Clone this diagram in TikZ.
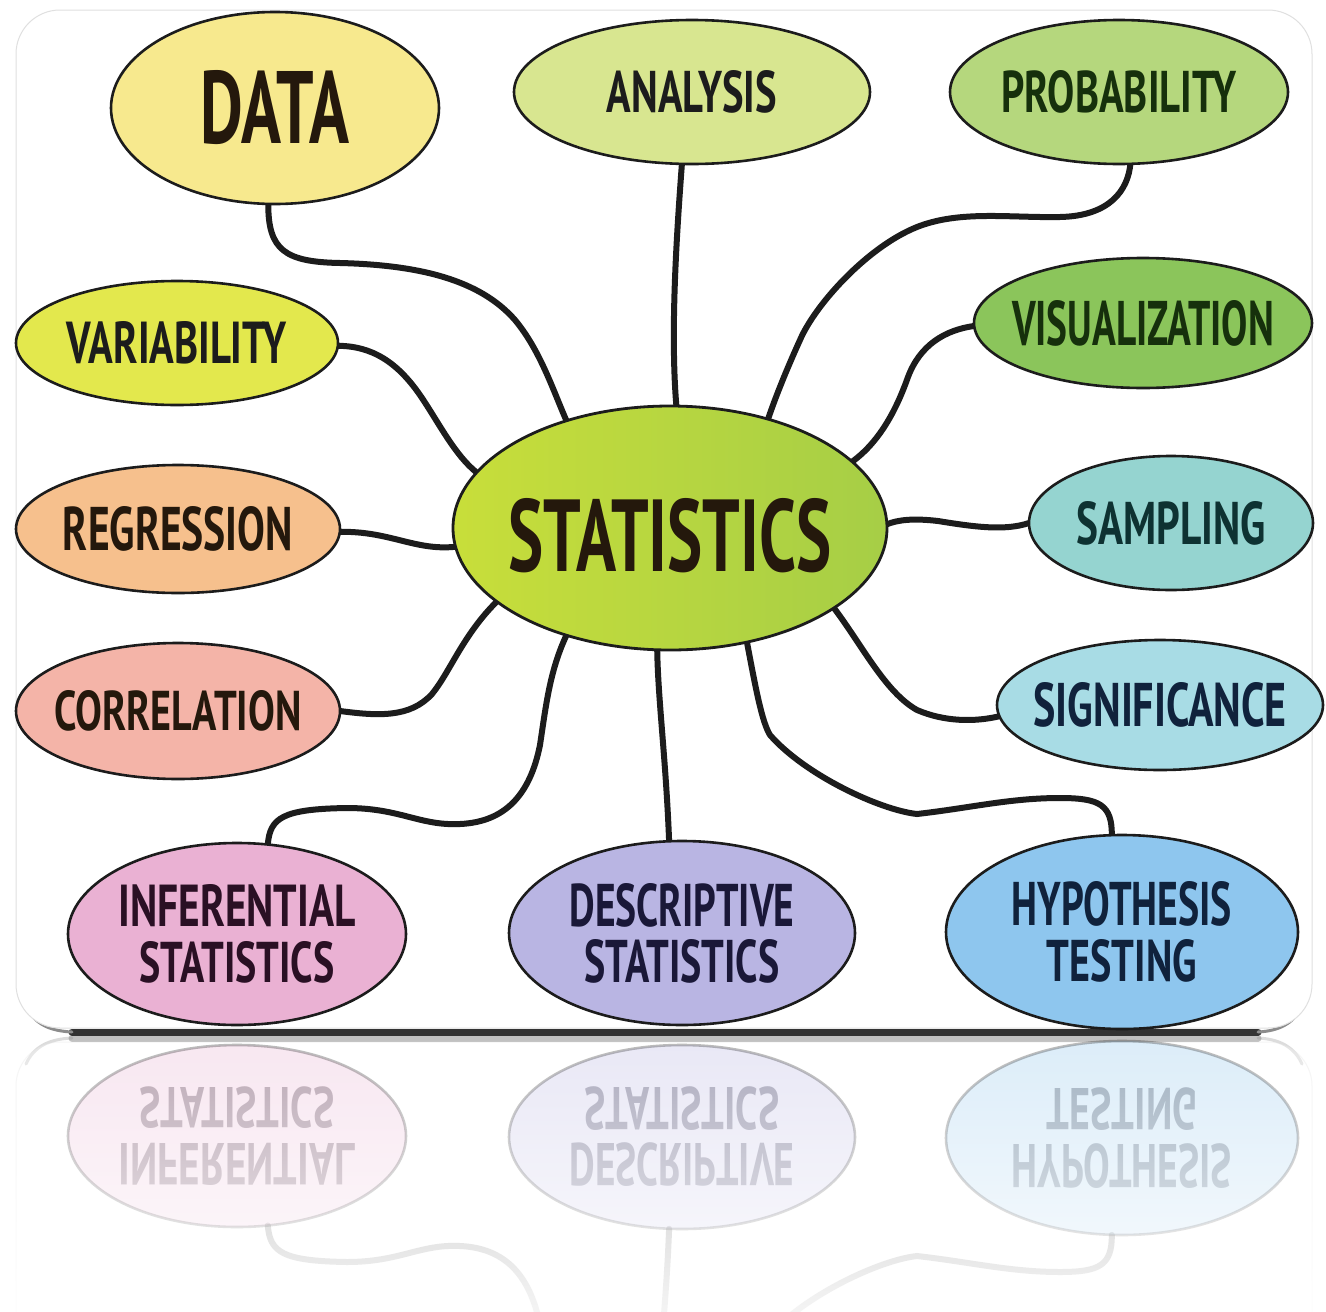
\documentclass[tikz,border=0pt]{standalone}
\usepackage{fontspec}
\setmainfont{PT Sans}
\usepackage{graphicx}
\usetikzlibrary{shapes.geometric,fadings}
\pgfdeclarelayer{cardlayer}
\pgfdeclarelayer{background}
\pgfsetlayers{cardlayer,background,main}

\definecolor{cData}{HTML}{F7E98E}
\definecolor{cAna}{HTML}{D8E690}
\definecolor{cProb}{HTML}{B5D77D}
\definecolor{cVar}{HTML}{E3E84D}
\definecolor{cVis}{HTML}{8BC55B}
\definecolor{cReg}{HTML}{F6C08D}
\definecolor{cSamp}{HTML}{95D4D0}
\definecolor{cCor}{HTML}{F4B4A8}
\definecolor{cSig}{HTML}{A8DCE5}
\definecolor{cInf}{HTML}{EAB1D3}
\definecolor{cDesc}{HTML}{B9B5E3}
\definecolor{cHyp}{HTML}{8EC6EE}
\definecolor{cStatL}{HTML}{C8DE3A}
\definecolor{cStatM}{HTML}{D3E440}
\definecolor{cStatR}{HTML}{A6CE46}
\definecolor{ink}{HTML}{1C1C1C}
\definecolor{tBrown}{HTML}{24180C}
\definecolor{tGreen}{HTML}{16300C}
\definecolor{tTeal}{HTML}{0E3232}
\definecolor{tNavy}{HTML}{10223C}
\definecolor{tPlum}{HTML}{2A1024}
\definecolor{tIndigo}{HTML}{1A1838}

\tikzfading[name=reflfade, top color=transparent!100, bottom color=transparent!15]

\newcommand{\lbl}[3]{\makebox[0pt]{\resizebox{#1pt}{#2pt}{\bfseries #3}}}

% card with bottom shadow
\newcommand{\cardpart}{%
  \begin{pgfonlayer}{cardlayer}
    \draw[line width=7pt, black!80, line cap=round] (72,1032) -- (1258,1032);
    \draw[line width=3pt, black!45, line cap=round] (26,1006) .. controls (34,1024) and (50,1031) .. (72,1032);
    \draw[line width=3pt, black!45, line cap=round] (1302,1006) .. controls (1294,1024) and (1278,1031) .. (1258,1032);
    \filldraw[fill=white, draw=black!12, line width=1pt, rounded corners=44pt] (16,10) rectangle (1312,1028);
  \end{pgfonlayer}}

% central node
\newcommand{\statnode}[1]{%
  \node[statsty] (stat) at (670,528) {#1};}

% upper leaves and their connectors
\newcommand{\toppart}{%
  \node[leaf, fill=cData, minimum width=328pt, minimum height=192pt, text=tBrown] (data) at (275,108) {\lbl{148}{73}{DATA}};
  \node[leaf, fill=cAna, minimum width=356pt, minimum height=144pt] (ana) at (692,92) {\lbl{170}{42}{ANALYSIS}};
  \node[leaf, fill=cProb, minimum width=338pt, minimum height=144pt, text=tGreen] (prob) at (1119,92) {\lbl{235}{42}{PROBABILITY}};
  \node[leaf, fill=cVar, minimum width=322pt, minimum height=124pt] (var) at (177,343) {\lbl{220}{42}{VARIABILITY}};
  \node[leaf, fill=cVis, minimum width=338pt, minimum height=130pt, text=tGreen] (vis) at (1143,323) {\lbl{262}{45}{VISUALIZATION}};
  \node[leaf, fill=cReg, minimum width=324pt, minimum height=128pt, text=tBrown] (reg) at (178,529) {\lbl{230}{44}{REGRESSION}};
  \node[leaf, fill=cSamp, minimum width=284pt, minimum height=134pt, text=tTeal] (samp) at (1171,523) {\lbl{189}{43}{SAMPLING}};
  \node[leaf, fill=cCor, minimum width=324pt, minimum height=136pt, text=tBrown] (cor) at (178,711) {\lbl{247}{40}{CORRELATION}};
  \node[leaf, fill=cSig, minimum width=326pt, minimum height=130pt, text=tNavy] (sig) at (1160,705) {\lbl{253}{44}{SIGNIFICANCE}};
  \begin{pgfonlayer}{background}
    \draw[conn] (data.-94) .. controls (268,250) and (285,262) .. (340,263) .. controls (420,265) and (480,280) .. (515,320) .. controls (540,350) and (553,390) .. (stat.134.2);
    \draw[conn] (ana.-98) .. controls (677,230) and (670,330) .. (stat.87.7);
    \draw[conn] (prob.-81) .. controls (1128,190) and (1110,216) .. (1060,217) .. controls (1010,218) and (960,210) .. (917,227) .. controls (867,247) and (815,305) .. (800,340) .. controls (790,362) and (778,390) .. (stat.48.9);
    \draw[conn] (var.-1) .. controls (372,346) and (398,362) .. (422,398) .. controls (440,425) and (455,455) .. (stat.164.5);
    \draw[conn] (vis.181.4) .. controls (945,330) and (920,345) .. (908,377) .. controls (898,405) and (882,440) .. (stat.20.2);
    \draw[conn] (reg.-1) .. controls (390,531) and (415,551) .. (stat.185.9);
    \draw[conn] (samp.180.8) .. controls (1005,531) and (975,527) .. (938,521) .. controls (912,518) and (898,520) .. (stat.1.6);
    \draw[conn] (cor.0) .. controls (378,716) and (410,718) .. (432,694) .. controls (450,672) and (463,635) .. (stat.203.5);
    \draw[conn] (sig.184.6) .. controls (975,722) and (945,722) .. (917,710) .. controls (885,692) and (862,645) .. (stat.334.9);
  \end{pgfonlayer}}

% lower leaves and their connectors
\newcommand{\bottompart}{%
  \node[leaf, fill=cInf, minimum width=338pt, minimum height=182pt, text=tPlum] (inf) at (237,934) {\lbl{237}{42}{INFERENTIAL}\\\lbl{195}{41}{STATISTICS}};
  \node[leaf, fill=cDesc, minimum width=346pt, minimum height=184pt, text=tIndigo] (desc) at (682,933) {\lbl{225}{43}{DESCRIPTIVE}\\\lbl{195}{43}{STATISTICS}};
  \node[leaf, fill=cHyp, minimum width=352pt, minimum height=194pt, text=tNavy] (hyp) at (1122,932) {\lbl{220}{44}{HYPOTHESIS}\\\lbl{150}{42}{TESTING}};
  \begin{pgfonlayer}{background}
    \draw[conn] (inf.71) .. controls (270,818) and (282,809) .. (347,808) .. controls (400,808) and (420,826) .. (460,824) .. controls (505,822) and (530,795) .. (540,745) .. controls (546,705) and (550,670) .. (stat.226);
    \draw[conn] (desc.98.6) .. controls (666,760) and (658,700) .. (stat.264);
    \draw[conn] (hyp.96.5) .. controls (1112,805) and (1100,798) .. (1060,798) .. controls (1010,798) and (970,808) .. (917,814) .. controls (880,810) and (805,775) .. (770,735) .. controls (762,722) and (756,690) .. (stat.304.9);
  \end{pgfonlayer}}

\begin{document}
\begin{tikzpicture}[x=1pt, y=-1pt,
  leaf/.style={ellipse, draw=ink, line width=2.6pt, inner sep=0pt, outer sep=0pt, text=ink,
               align=center, font=\fontsize{10}{56}\selectfont},
  statsty/.style={ellipse, draw=ink, line width=2.8pt, inner sep=0pt, outer sep=0pt,
               minimum width=434pt, minimum height=244pt, text=tBrown,
               left color=cStatL, middle color=cStatM, right color=cStatR},
  conn/.style={line width=6pt, draw=ink, line cap=round}]
  \useasboundingbox (0,0) rectangle (1326,1312);
  \begin{pgfonlayer}{cardlayer}
    \fill[white] (0,0) rectangle (1326,1312);
  \end{pgfonlayer}
  % the mind map
  \cardpart
  \statnode{\rule{0pt}{89pt}\lbl{323}{73}{STATISTICS}}
  \toppart
  \bottompart
  % its reflection on the floor
  \begin{scope}
    \clip (0,1036) rectangle (1326,1312);
    \begin{scope}[shift={(0,2070)}, yscale=-1, name prefix=r-,
                  every node/.append style={transform shape},
                  every path/.append style={opacity=0.3}]
      \cardpart
      \statnode{}
      \bottompart
    \end{scope}
  \end{scope}
  \fill[white, path fading=reflfade] (0,1036) rectangle (1326,1312);
\end{tikzpicture}
\end{document}
